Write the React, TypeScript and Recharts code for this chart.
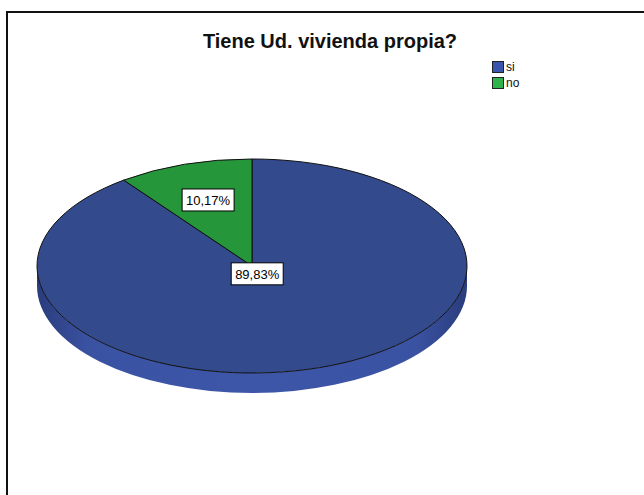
import React from 'react';
import { PieChart, Pie, Cell } from 'recharts';

const categories = ['si', 'no'];
const percentages = [89.83, 10.17];
const title = 'Tiene Ud. vivienda propia?';

const LEGEND_COLORS = ['#3a55b0', '#2fb14b'];
const TOP_COLORS = ['#334a8d', '#26963b'];
const SIDE_COLORS = ['#3a52a2', '#21873a'];
// how far out each label sits, as a fraction of the radius
const LABEL_RADIUS = [0.077, 0.65];

const RATIO = 107 / 215; // vertical squash of the pie
const DEPTH = 20;
const RAD = Math.PI / 180;
const FONT = '"Liberation Sans", Arial, sans-serif';

const data = categories.map((name, i) => ({ name, value: percentages[i] }));

const pt = (cx: number, cy: number, r: number, a: number, dy = 0) => ({
  x: cx + r * Math.cos(-a * RAD),
  y: cy + r * RATIO * Math.sin(-a * RAD) + dy,
});

const EllipseSector = (props: any) => {
  const { cx, cy, outerRadius: r, startAngle: s, endAngle: e, index } = props;
  const rx = r;
  const ry = r * RATIO;
  const top = TOP_COLORS[index % TOP_COLORS.length];
  const side = SIDE_COLORS[index % SIDE_COLORS.length];
  const gid = `side-grad-${index}`;

  // side band: part of the sector that lies in the lower half (-180..0)
  const lo = Math.min(s, e);
  const hi = Math.max(s, e);
  const bands: string[] = [];
  [-360, 0, 360].forEach((k) => {
    const a1 = Math.min(hi, 0 + k);
    const a2 = Math.max(lo, -180 + k);
    if (a1 > a2) {
      const p1 = pt(cx, cy, r, a1);
      const p2 = pt(cx, cy, r, a2);
      bands.push(
        `M${p1.x},${p1.y} A${rx},${ry} 0 0 1 ${p2.x},${p2.y} L${p2.x},${p2.y + DEPTH} A${rx},${ry} 0 0 0 ${p1.x},${p1.y + DEPTH} Z`
      );
    }
  });

  const ps = pt(cx, cy, r, s);
  const pe = pt(cx, cy, r, e);
  const large = Math.abs(e - s) > 180 ? 1 : 0;
  const sweep = e < s ? 1 : 0;
  const face = `M${cx},${cy} L${ps.x},${ps.y} A${rx},${ry} 0 ${large} ${sweep} ${pe.x},${pe.y} Z`;

  return (
    <g>
      <defs>
        <linearGradient id={gid} gradientUnits="userSpaceOnUse" x1={cx - rx} y1={0} x2={cx + rx} y2={0}>
          <stop offset="0" stopColor="#2a3c7c" />
          <stop offset="0.12" stopColor={side} />
          <stop offset="0.5" stopColor="#3d56a8" />
          <stop offset="0.88" stopColor={side} />
          <stop offset="1" stopColor="#2a3c7c" />
        </linearGradient>
      </defs>
      {bands.map((d, i) => (
        <path key={i} d={d} fill={index === 0 ? `url(#${gid})` : side} stroke="none" />
      ))}
      <path d={face} fill={top} stroke="#111" strokeWidth={1} strokeLinejoin="round" />
    </g>
  );
};

const renderLabel = (props: any) => {
  const { cx, cy, midAngle, outerRadius, value, index } = props;
  const p = pt(cx, cy, outerRadius * LABEL_RADIUS[index], midAngle);
  const text = value.toFixed(2).replace('.', ',') + '%';
  const w = 52;
  const h = 22;
  return (
    <g key={`lbl-${index}`}>
      <rect x={p.x - w / 2} y={p.y - h / 2} width={w} height={h} fill="#fff" stroke="#000" strokeWidth={1} />
      <text x={p.x} y={p.y + 5} textAnchor="middle" fontFamily={FONT} fontSize={13} fill="#000">
        {text}
      </text>
    </g>
  );
};

export default function App() {
  return (
    <div style={{ position: 'absolute', left: 0, top: 0, width: 644, height: 495, overflow: 'hidden', background: '#fff' }}>
      <div
        style={{
          position: 'absolute',
          left: 6,
          top: 11,
          width: 720,
          height: 600,
          border: '2px solid #111',
          boxSizing: 'border-box',
        }}
      />
      <div
        style={{
          position: 'absolute',
          left: 0,
          top: 29,
          width: 660,
          textAlign: 'center',
          fontFamily: FONT,
          fontWeight: 'bold',
          fontSize: 20,
          color: '#111',
          lineHeight: '24px',
        }}
      >
        {title}
      </div>
      <div style={{ position: 'absolute', left: 492, top: 59, fontFamily: FONT, fontSize: 12, color: '#111' }}>
        {categories.map((c, i) => (
          <div key={c} style={{ display: 'flex', alignItems: 'center', height: 16 }}>
            <span
              style={{
                display: 'inline-block',
                width: 12,
                height: 12,
                background: LEGEND_COLORS[i],
                border: '1px solid #222',
                boxSizing: 'border-box',
                marginRight: 2,
              }}
            />
            {c}
          </div>
        ))}
      </div>
      <div style={{ position: 'absolute', left: 0, top: 0 }}>
        <PieChart width={644} height={495} margin={{ top: 0, right: 0, bottom: 0, left: 0 }}>
          <Pie
            data={data}
            dataKey="value"
            nameKey="name"
            cx={252}
            cy={266}
            outerRadius={215}
            startAngle={90}
            endAngle={-270}
            shape={EllipseSector}
            label={renderLabel}
            labelLine={false}
            isAnimationActive={false}
          >
            {data.map((d, i) => (
              <Cell key={d.name} fill={TOP_COLORS[i]} />
            ))}
          </Pie>
        </PieChart>
      </div>
    </div>
  );
}
